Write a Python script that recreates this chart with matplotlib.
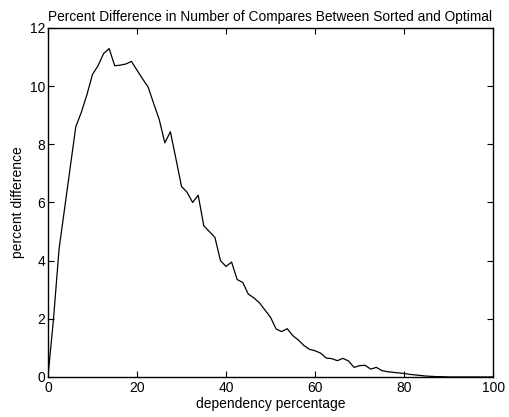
import matplotlib
matplotlib.use("Agg")
import matplotlib.pyplot as plt

plt.rcParams['font.family'] = ['Liberation Sans', 'DejaVu Sans']

# dependency percentage (x) and percent difference (y)
dependency = [0, 1.25, 2.5, 3.75, 5, 6.25, 7.5, 8.75, 10, 11.25,
              12.5, 13.75, 15, 16.25, 17.5, 18.75, 20, 21.25, 22.5, 23.75,
              25, 26.25, 27.5, 28.75, 30, 31.25, 32.5, 33.75, 35, 36.25,
              37.5, 38.75, 40, 41.25, 42.5, 43.75, 45, 46.25, 47.5, 48.75,
              50, 51.25, 52.5, 53.75, 55, 56.25, 57.5, 58.75, 60, 61.25,
              62.5, 63.75, 65, 66.25, 67.5, 68.75, 70, 71.25, 72.5, 73.75,
              75, 76.25, 77.5, 78.75, 80, 81.25, 82.5, 83.75, 85, 86.25,
              87.5, 88.75, 90, 91.25, 92.5, 93.75, 95, 96.25, 97.5, 98.75, 100]
pct_diff = [0, 2.0, 4.4, 5.8, 7.2, 8.6, 9.1, 9.7, 10.4, 10.7,
            11.12, 11.29, 10.7, 10.72, 10.76, 10.85, 10.55, 10.25, 9.97, 9.4,
            8.85, 8.05, 8.43, 7.5, 6.55, 6.35, 6.0, 6.25, 5.2, 5.0,
            4.8, 4.0, 3.8, 3.95, 3.35, 3.25, 2.85, 2.72, 2.55, 2.3,
            2.05, 1.65, 1.56, 1.66, 1.42, 1.27, 1.08, 0.95, 0.9, 0.82,
            0.65, 0.63, 0.56, 0.64, 0.55, 0.33, 0.39, 0.4, 0.27, 0.33,
            0.22, 0.18, 0.16, 0.14, 0.12, 0.09, 0.07, 0.05, 0.03, 0.02,
            0.01, 0.01, 0, 0, 0, 0, 0, 0, 0, 0, 0]

fig = plt.figure(figsize=(5.1, 4.17), dpi=100)
ax = fig.add_axes([0.094, 0.096, 0.873, 0.837])
ax.plot(dependency, pct_diff, color='black', linewidth=0.9)

ax.set_xlim(0, 100)
ax.set_ylim(0, 12)
ax.set_xticks([0, 20, 40, 60, 80, 100])
ax.set_yticks([0, 2, 4, 6, 8, 10, 12])
ax.tick_params(direction='in', top=True, right=True, length=4, width=0.8,
               labelsize=10)
ax.tick_params(axis='y', pad=2)
ax.tick_params(axis='x', pad=3)
for s in ax.spines.values():
    s.set_linewidth(1.0)

ax.set_title('Percent Difference in Number of Compares Between Sorted and Optimal',
             fontsize=9.9, pad=5)
ax.set_xlabel('dependency percentage', fontsize=10, labelpad=1)
ax.set_ylabel('percent difference', fontsize=10, labelpad=3)

fig.savefig('out.png', dpi=100)
